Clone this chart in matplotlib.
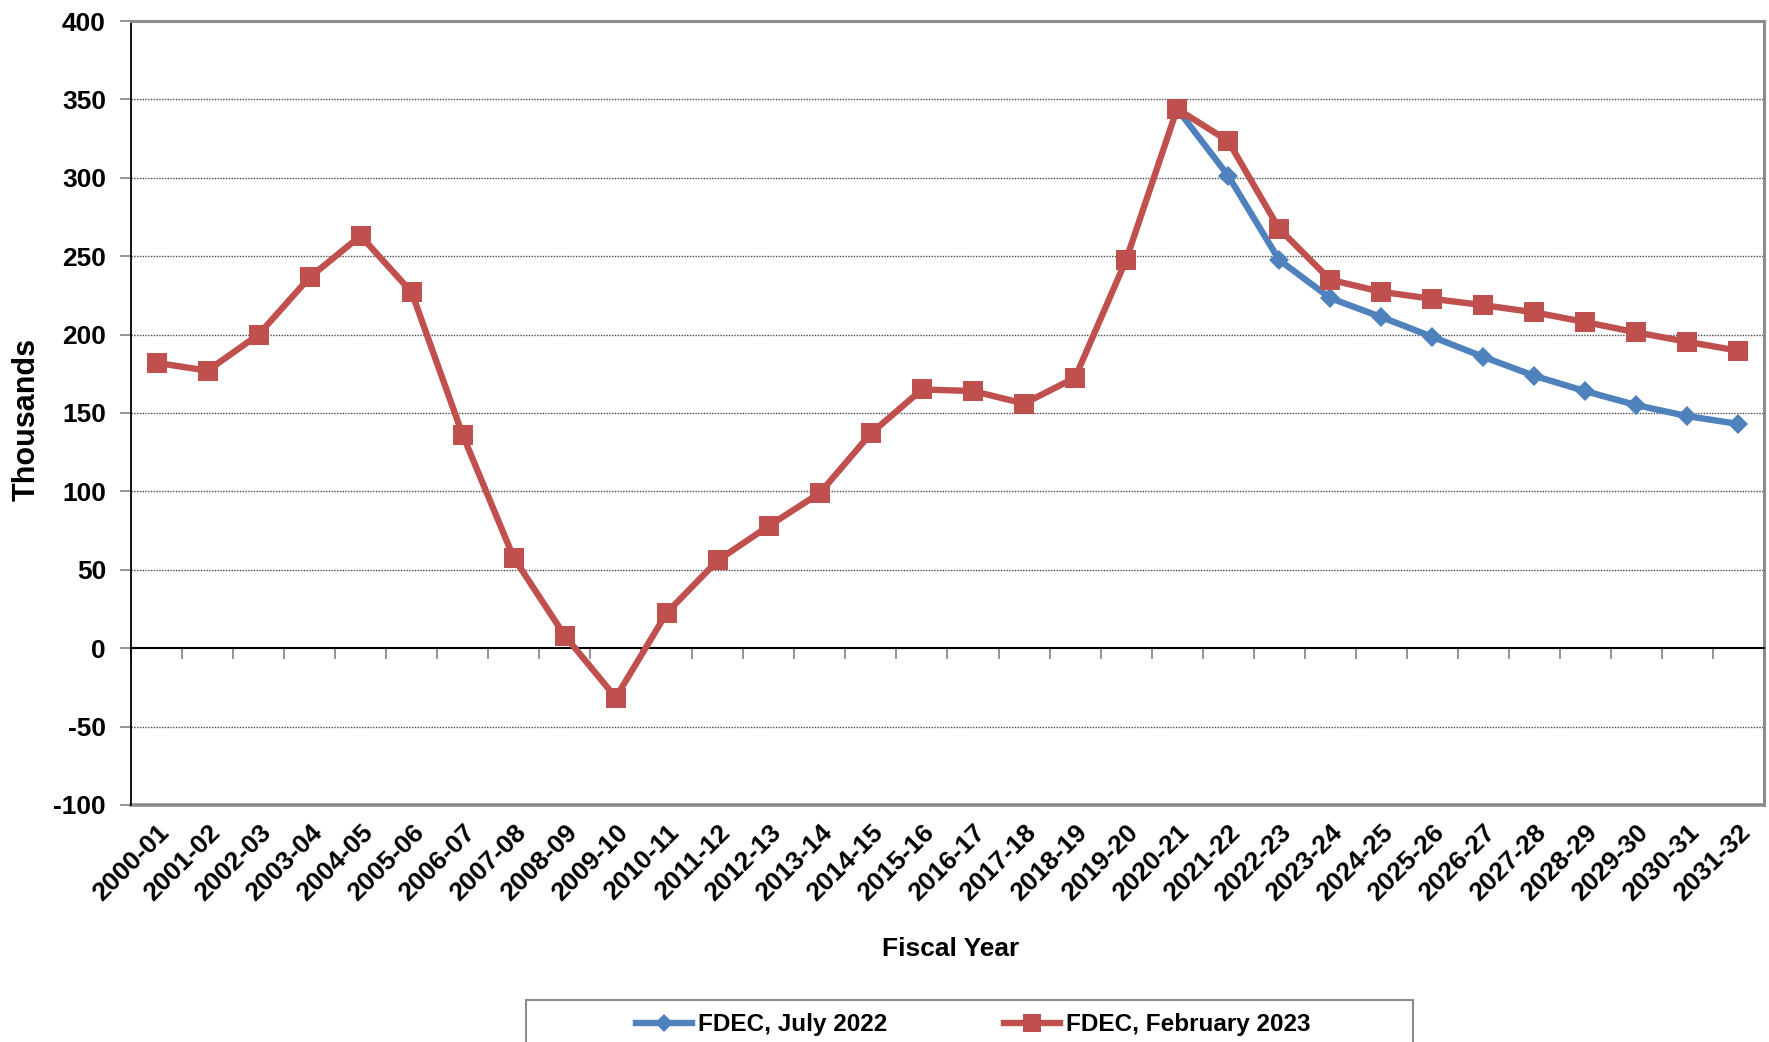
import matplotlib
matplotlib.use("Agg")
import matplotlib.pyplot as plt
import matplotlib.patches as mpatches
from matplotlib.ticker import FixedLocator, MultipleLocator
import numpy as np

plt.rcParams['font.family'] = ['Liberation Sans', 'DejaVu Sans']
plt.rcParams['font.weight'] = 'bold'

years = ["2000-01", "2001-02", "2002-03", "2003-04", "2004-05", "2005-06", "2006-07",
         "2007-08", "2008-09", "2009-10", "2010-11", "2011-12", "2012-13", "2013-14",
         "2014-15", "2015-16", "2016-17", "2017-18", "2018-19", "2019-20", "2020-21",
         "2021-22", "2022-23", "2023-24", "2024-25", "2025-26", "2026-27", "2027-28",
         "2028-29", "2029-30", "2030-31", "2031-32"]

feb_2023 = [182, 177, 200, 236.5, 263, 227, 136, 57.7, 8, -31.5, 22.6, 56, 78, 99,
            137, 165, 164, 156, 172.5, 247.6, 344, 323.5, 267.5, 235, 227.3, 222.8,
            218.8, 214.2, 208, 201.4, 195.4, 189.7]

jul_2022 = [np.nan] * 20 + [344, 301.4, 247.6, 223.3, 211.2, 198.6, 185.8, 173.7,
                            163.9, 155, 148, 143]

blue = '#4F81BD'
red = '#C0504D'
grey = '#8C8C8C'

fig = plt.figure(figsize=(17.69, 10.42), dpi=100)
ax = fig.add_axes([0.07405, 0.2275, 0.9231, 0.7523])

x = np.arange(len(years))
ax.plot(x, jul_2022, color=blue, lw=4.6, marker='D', markersize=10.5,
        markeredgewidth=0, label='FDEC, July 2022', zorder=3)
ax.plot(x, feb_2023, color=red, lw=4.6, marker='s', markersize=14.5,
        markeredgewidth=0, label='FDEC, February 2023', zorder=4)

ax.set_xlim(-0.5, len(years) - 0.5)
ax.set_ylim(-100, 400)
ax.yaxis.set_major_locator(MultipleLocator(50))

# gridlines
for v in range(-50, 400, 50):
    if v != 0:
        ax.axhline(v, color='#4a4a4a', lw=1.0, ls=(0, (1, 1)), zorder=1)

# spines
ax.spines['left'].set_color('black')
ax.spines['left'].set_linewidth(1.3)
for s in ['top', 'right']:
    ax.spines[s].set_color(grey)
    ax.spines[s].set_linewidth(2.2)
ax.spines['bottom'].set_position(('data', 0))
ax.spines['bottom'].set_color('black')
ax.spines['bottom'].set_linewidth(1.5)

# x ticks at zero line, between categories
ax.xaxis.set_major_locator(FixedLocator(np.arange(-0.5, len(years), 1.0)))
ax.xaxis.set_major_formatter(plt.NullFormatter())
ax.tick_params(axis='x', which='major', direction='out', length=8, width=1.3,
               color=grey)

ax.tick_params(axis='y', direction='out', length=8, width=1.3, color=grey,
               labelsize=19, pad=10)
ax.set_yticks(range(-100, 401, 50))
ax.set_yticklabels([str(v) for v in range(-100, 401, 50)], fontweight='bold')

# category labels on a bottom axis
sec = ax.secondary_xaxis('bottom')
sec.set_xticks(x)
sec.set_xticklabels(years, rotation=45, ha='right', va='top',
                    rotation_mode='anchor', fontsize=19, fontweight='bold')
sec.tick_params(axis='x', length=0, pad=11)
sec.spines['bottom'].set_color(grey)
sec.spines['bottom'].set_linewidth(2.6)

fig.text(0.0153, 0.597, 'Thousands', rotation=90, ha='center', va='center',
         fontsize=22, fontweight='bold')
fig.text(0.5376, 0.0895, 'Fiscal Year', ha='center', va='center',
         fontsize=19, fontweight='bold')

# legend box (extends past the bottom edge)
rect = mpatches.Rectangle((526 / 1769, -0.05), (1413 - 526) / 1769,
                          (1042 - 1000) / 1042 + 0.05, transform=fig.transFigure,
                          facecolor='white', edgecolor=grey, lw=1.5, zorder=0)
fig.patches.append(rect)
fig.legend(loc='center', bbox_to_anchor=(0.550, 0.0165), ncol=2, frameon=False,
           handlelength=2.3, handletextpad=0.25, columnspacing=4.8,
           markerscale=0.85, prop={'weight': 'bold', 'size': 17.5})

fig.savefig('out.png', dpi=100, facecolor='white')
